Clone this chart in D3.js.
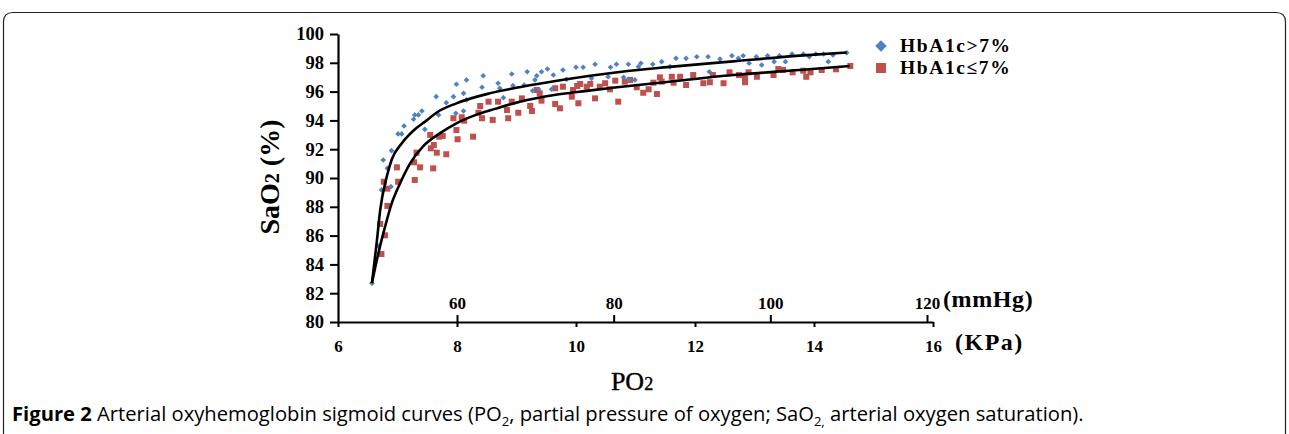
<!DOCTYPE html>
<html>
<head>
<meta charset="utf-8">
<script src="https://cdn.jsdelivr.net/npm/d3@7"></script>
<style>
  body { margin: 0; background: #fff; }
  svg { display: block; }
  .tick text { font-family: "Liberation Serif", serif; font-weight: bold; }
</style>
</head>
<body>
<div id="chart"></div>
<script>
// values: [PO2 (KPa), SaO2 (%)]
const kpaTicks = [6, 8, 10, 12, 14, 16];
const mmhgTicks = [60, 80, 100, 120];
const satTicks = [80, 82, 84, 86, 88, 90, 92, 94, 96, 98, 100];
const seriesNames = ["HbA1c>7%", "HbA1c\u22647%"];

const highPoints = [
  [6.57,82.69],[6.68,85.28],[6.73,89.17],[6.76,91.25],[6.83,90.67],[6.89,89.40],[6.90,91.90],
  [7.01,93.06],[7.07,93.06],[7.11,93.61],[7.27,94.08],[7.29,94.38],[7.35,94.38],[7.41,94.65],
  [7.46,93.38],[7.69,94.38],[7.98,94.49],[8.11,94.65],[7.99,96.51],[8.16,96.81],[8.44,97.10],
  [8.42,96.30],[8.11,95.88],[7.94,95.65],[7.82,95.23],[7.65,95.65],[8.16,95.42],[8.69,96.58],
  [8.72,96.23],[8.92,97.22],[8.94,96.41],[9.13,96.46],[9.18,97.38],[9.31,96.81],[9.34,97.10],
  [9.42,97.38],[9.52,97.57],[9.62,97.15],[9.78,97.50],[9.59,96.16],[9.27,96.06],[9.37,96.16],
  [10.00,97.69],[10.12,97.69],[10.32,97.90],[9.84,96.85],[10.58,97.69],[10.68,97.90],[10.54,97.03],
  [10.88,97.90],[11.05,97.73],[11.09,97.97],[10.80,96.99],[10.88,96.85],[10.99,96.81],[11.29,97.90],
  [11.44,98.08],[8.78,95.58],[10.26,96.92],[11.68,98.31],[11.85,98.31],[12.03,98.42],[12.22,98.42],
  [12.24,97.38],[12.42,98.26],[12.62,98.49],[12.73,98.31],[12.81,98.49],[12.91,97.97],[13.03,98.42],
  [13.12,97.85],[13.22,98.49],[13.33,98.08],[13.42,98.49],[13.52,98.08],[13.63,98.61],[13.82,98.61],
  [13.92,98.42],[14.03,98.61],[14.16,98.61],[14.24,98.08],[14.32,98.54],[14.55,98.70],[11.58,97.73]
];

const lowPoints = [
  [6.73,84.72],[6.71,86.81],[6.79,86.02],[6.83,88.06],[6.77,89.74],[6.83,89.26],[6.99,90.74],
  [7.01,89.74],[7.29,89.86],[7.28,91.09],[7.32,91.76],[7.38,90.74],[7.60,90.67],[7.66,91.76],
  [7.82,91.65],[7.56,92.06],[7.61,92.29],[7.55,92.99],[7.70,92.87],[7.76,92.92],[8.01,92.69],
  [7.99,93.33],[8.27,92.87],[7.94,94.15],[8.08,94.22],[8.12,93.98],[8.42,94.15],[8.60,94.03],
  [8.36,94.53],[8.39,95.00],[8.53,95.30],[8.69,95.30],[8.84,94.72],[8.86,94.15],[9.03,94.53],
  [8.92,95.30],[9.09,95.53],[9.23,95.00],[9.26,94.65],[9.34,96.11],[9.39,95.88],[9.42,95.37],
  [9.65,96.23],[9.65,95.14],[9.73,94.84],[9.78,96.34],[9.93,95.65],[9.95,96.11],[10.02,96.39],
  [10.04,95.19],[10.07,96.53],[10.18,96.34],[10.24,96.53],[10.32,95.53],[10.40,96.34],[10.49,96.58],
  [10.57,96.16],[10.71,95.30],[10.66,96.76],[10.82,96.69],[10.91,96.81],[11.02,96.30],[11.13,95.92],
  [11.22,96.16],[11.36,95.83],[11.41,96.99],[11.30,96.62],[11.44,96.69],[11.61,97.03],[11.64,96.62],
  [11.75,97.03],[11.85,96.46],[11.97,97.15],[12.14,96.58],[12.25,96.65],[12.30,97.15],[12.48,96.58],
  [12.58,97.34],[12.74,97.15],[12.84,96.65],[12.84,96.99],[12.90,97.34],[13.04,97.03],[13.32,97.15],
  [13.40,97.57],[13.48,97.50],[13.64,97.34],[13.82,97.45],[13.87,97.03],[13.94,97.34],[14.13,97.50],
  [14.37,97.55],[14.61,97.78]
];

// fitted curves
const highCurve = [
  [6.57,82.7],[6.65,85.5],[6.71,87.8],[6.82,90.1],[6.90,91.25],[7.07,92.4],[7.27,93.3],[7.49,94.0],
  [7.66,94.55],[8.0,95.2],[8.55,95.88],[9.11,96.35],[9.68,96.75],[10.24,97.1],[10.8,97.4],
  [11.53,97.7],[12.64,98.1],[13.76,98.5],[14.55,98.72]
];
const lowCurve = [
  [6.57,82.7],[6.68,84.8],[6.79,86.6],[6.90,88.2],[7.04,89.6],[7.21,91.0],[7.43,92.2],[7.71,93.1],
  [7.99,93.8],[8.33,94.4],[8.64,94.8],[9.06,95.3],[9.61,95.75],[10.18,96.05],[10.69,96.3],
  [11.53,96.67],[12.64,97.15],[13.76,97.5],[14.6,97.78]
];

const svgWidth = 1289;
const svgHeight = 434;
const blue = "#4f81c4";
const red = "#c0504d";

const svg = d3.select("#chart")
  .append("svg")
  .attr("width", svgWidth)
  .attr("height", svgHeight);

// panel frame
svg.append("path")
  .attr("d", "M3.5,440 L3.5,22 Q3.5,12.5 13,12.5 L1276,12.5 Q1285.5,12.5 1285.5,22 L1285.5,440")
  .attr("fill", "none")
  .attr("stroke", "#222")
  .attr("stroke-width", 1.2);

const x = d3.scaleLinear().domain([6, 16]).range([338, 933]);
const xHg = d3.scaleLinear().domain([45, 120]).range([339.5, 927]);
const y = d3.scaleLinear().domain([80, 100]).range([322, 34]);

// y axis
const yAxis = svg.append("g")
  .attr("transform", "translate(338,0)")
  .call(d3.axisLeft(y).tickValues(satTicks).tickSize(8).tickSizeOuter(0));
yAxis.select(".domain").attr("stroke-width", 2.2);
yAxis.selectAll(".tick line").attr("stroke-width", 2);
yAxis.selectAll(".tick text").attr("x", -14).attr("font-size", 18.5).attr("fill", "#000");

// x axis, KPa below
const xAxis = svg.append("g")
  .attr("transform", "translate(0,322)")
  .call(d3.axisBottom(x).tickValues(kpaTicks).tickSize(5).tickSizeOuter(0));
xAxis.select(".domain").attr("stroke-width", 2.2);
xAxis.selectAll(".tick line").attr("stroke-width", 2);
xAxis.selectAll(".tick text").attr("y", 18).attr("font-size", 17).attr("fill", "#000");

// mmHg ticks above the same line
const hgAxis = svg.append("g")
  .attr("transform", "translate(0,322)")
  .call(d3.axisTop(xHg).tickValues(mmhgTicks).tickSize(7).tickSizeOuter(0));
hgAxis.select(".domain").remove();
hgAxis.selectAll(".tick line").attr("stroke-width", 2);
hgAxis.selectAll(".tick text").attr("y", -13).attr("font-size", 17).attr("fill", "#000");

svg.append("text")
  .attr("x", 943).attr("y", 307)
  .attr("font-family", "Liberation Serif, serif").attr("font-weight", "bold")
  .attr("font-size", 24).attr("letter-spacing", 0.6)
  .text("(mmHg)");

svg.append("text")
  .attr("x", 955).attr("y", 350)
  .attr("font-family", "Liberation Serif, serif").attr("font-weight", "bold")
  .attr("font-size", 24).attr("letter-spacing", 1.5)
  .text("(KPa)");

// axis titles
const xTitle = svg.append("text")
  .attr("x", 632).attr("y", 390)
  .attr("text-anchor", "middle")
  .attr("font-family", "Liberation Serif, serif")
  .attr("font-size", 26)
  .attr("stroke", "#000").attr("stroke-width", 0.4);
xTitle.append("tspan").text("PO");
xTitle.append("tspan").attr("font-size", 18).text("2");

const yTitle = svg.append("text")
  .attr("transform", "translate(279,177) rotate(-90)")
  .attr("text-anchor", "middle")
  .attr("font-family", "Liberation Serif, serif")
  .attr("font-weight", "bold")
  .attr("font-size", 28);
yTitle.append("tspan").text("SaO");
yTitle.append("tspan").attr("font-size", 20).text("2");
yTitle.append("tspan").text(" (%)");

// scatter
svg.append("g").selectAll("rect")
  .data(lowPoints)
  .enter()
  .append("rect")
  .attr("x", d => x(d[0]) - 3)
  .attr("y", d => y(d[1]) - 3)
  .attr("width", 6)
  .attr("height", 6)
  .attr("fill", red);

svg.append("g").selectAll("rect")
  .data(highPoints)
  .enter()
  .append("rect")
  .attr("x", -2)
  .attr("y", -2)
  .attr("width", 4)
  .attr("height", 4)
  .attr("transform", d => `translate(${x(d[0])},${y(d[1])}) rotate(45)`)
  .attr("fill", blue);

// fitted curves
const line = d3.line()
  .x(d => x(d[0]))
  .y(d => y(d[1]))
  .curve(d3.curveMonotoneX);

[highCurve, lowCurve].forEach(function(c) {
  svg.append("path")
    .datum(c)
    .attr("d", line)
    .attr("fill", "none")
    .attr("stroke", "#000")
    .attr("stroke-width", 2.6);
});

// legend
const legend = svg.append("g");
legend.append("rect")
  .attr("x", -4).attr("y", -4)
  .attr("width", 8).attr("height", 8)
  .attr("transform", "translate(881,46) rotate(45)")
  .attr("fill", blue);
legend.append("rect")
  .attr("x", 876).attr("y", 63)
  .attr("width", 10).attr("height", 10)
  .attr("fill", red);
legend.selectAll("text")
  .data(seriesNames)
  .enter()
  .append("text")
  .attr("x", 900)
  .attr("y", (d, i) => 52 + i * 22)
  .attr("font-family", "Liberation Serif, serif")
  .attr("font-weight", "bold")
  .attr("font-size", 19.5)
  .attr("letter-spacing", 1.6)
  .text(d => d);

// caption
const cap = svg.append("text")
  .attr("x", 12).attr("y", 421)
  .attr("font-family", "Open Sans, sans-serif")
  .attr("font-size", 20.2)
  .attr("fill", "#000");
cap.append("tspan").attr("font-weight", "bold").text("Figure 2");
cap.append("tspan").text(" Arterial oxyhemoglobin sigmoid curves (PO");
cap.append("tspan").attr("font-size", 13).attr("dy", 5).text("2");
cap.append("tspan").attr("dy", -5).text(", partial pressure of oxygen; SaO");
cap.append("tspan").attr("font-size", 13).attr("dy", 5).text("2,");
cap.append("tspan").attr("dy", -5).text(" arterial oxygen saturation).");
</script>
</body>
</html>
